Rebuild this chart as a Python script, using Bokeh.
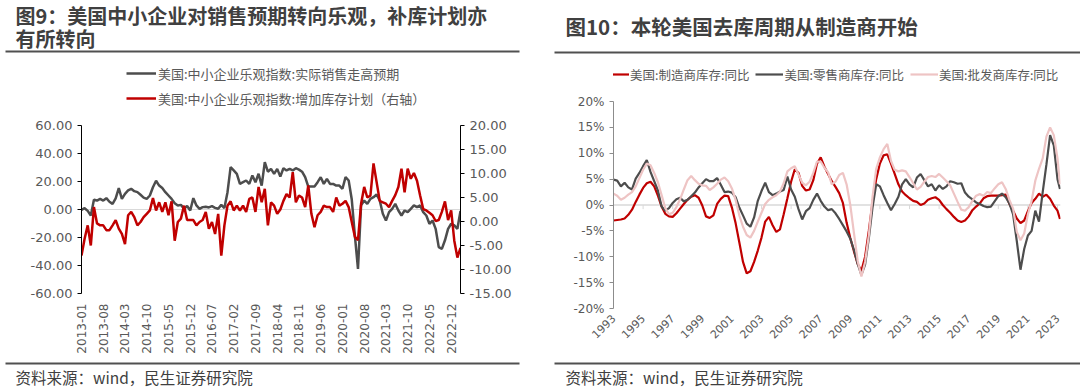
import numpy as np
import pandas as pd
from bokeh.plotting import figure
from bokeh.layouts import row, column
from bokeh.models import (Range1d, LinearAxis, FixedTicker, PrintfTickFormatter,
                          Span, Legend, LegendItem)
from bokeh.core.properties import value
from bokeh.embed import file_html
from bokeh.resources import INLINE

# ---------------- data: left chart (monthly, 2013-01 .. 2023-03) ----------------
months = pd.date_range("2013-01-01", periods=123, freq="MS").strftime("%Y-%m").tolist()

sales_expect = [
    -0.2, 0.9, -1.0, -4.3, 7.0, 6.4, 7.6, 6.4, 8.1, 5.5,
    4.0, 8.0, 15.2, 7.6, 11.2, 13.6, 14.8, 13.1, 12.4, 10.5,
    8.5, 7.6, 10.0, 15.9, 20.5, 17.1, 15.3, 12.4, 10.0, 7.6,
    4.5, 2.9, 3.3, 0.5, 2.5, -0.7, 8.1, 2.9, 0.5, 1.7,
    1.9, 1.5, 2.4, 1.2, 0.5, 3.3, 1.0, 12.4, 30.2, 27.9,
    25.5, 18.3, 19.5, 20.7, 18.3, 24.3, 19.5, 25.5, 17.1, 33.8,
    27.0, 29.0, 25.5, 29.0, 23.5, 29.5, 27.9, 29.0, 27.9, 29.5,
    28.5, 27.0, 23.1, 16.4, 16.4, 16.4, 19.5, 23.1, 18.3, 21.9,
    18.3, 18.3, 17.1, 17.1, 14.8, 23.1, 20.7, 7.1, -18.6, -42.4,
    3.0, 6.4, 4.0, 7.6, 8.8, 10.7, 6.4, -3.1, -7.9, -1.9,
    0.5, 4.0, -0.7, -4.3, -0.7, -1.9, 0.5, 2.9, 1.7, 2.9,
    -1.9, -4.3, -10.2, -7.9, -13.8, -26.9, -28.1, -22.0, -13.8, -10.2,
    -11.4, -13.8, -1.0,
]

inventory_plan = [
    -7.1, -3.6, -0.8, -5.0, 3.0, -0.4, -0.8, -0.8, -1.8, -1.8,
    -0.8, 0.3, -1.5, -2.6, -4.7, 1.3, 2.0, 0.9, -0.8, -0.1,
    0.9, 1.6, 2.3, 4.9, 2.3, 4.0, 2.0, 4.0, 1.3, 4.2,
    -4.0, -0.1, 0.6, 3.3, 0.3, 0.3, 0.3, -0.8, -0.1, 0.3,
    2.0, -1.5, -0.1, -2.6, 1.6, -7.1, -0.8, 3.3, 4.2, 2.3,
    3.3, 2.3, 3.3, 2.0, 4.7, 5.0, 2.0, 7.2, 4.0, 6.8,
    -0.8, 4.0, 3.3, 1.6, 2.5, 4.3, 5.7, 5.0, 10.3, 4.0,
    5.4, 5.0, 3.0, 7.5, 1.6, -1.2, 1.3, 2.0, 3.3, 3.0,
    3.0, 2.0, 5.0, 3.3, 3.7, 4.3, 3.0, -0.1, -3.2, -3.9,
    3.7, 7.2, 5.0, 5.4, 12.1, 8.2, 4.3, 4.0, 3.7, 3.0,
    4.3, 5.5, 7.2, 11.0, 6.1, 11.0, 8.9, 10.1, 8.5, 5.4,
    2.6, 2.3, 1.8, 1.3, 0.1, 0.3, 2.0, 4.2, 0.3, 2.3,
    -4.0, -7.5, -5.5,
]

left_ticks = [-60, -40, -20, 0, 20, 40, 60]
right_ticks = [-15, -10, -5, 0, 5, 10, 15, 20]

# ---------------- data: right chart (quarterly, 1993Q1 .. 2023-03) ----------------
q_dates = pd.date_range("1993-01-01", "2023-01-01", freq="QS").tolist() + [pd.Timestamp("2023-03-01")]

manuf_inv = [
    -3.0, -2.9, -2.8, -2.6, -1.9, -0.9, 0.6, 2.0, 3.3, 4.2, 4.5, 3.6,
    1.8, -0.3, -1.7, -2.2, -2.3, -1.6, -0.7, 0.2, 1.0, 1.6, 1.9, 1.4,
    -0.1, -2.2, -2.5, -2.0, 0.2, 1.2, 1.8, 1.7, -0.5, -3.5, -7.2, -11.0,
    -13.2, -12.8, -11.0, -8.8, -6.3, -3.2, -2.3, -3.9, -5.2, -4.7, -1.8, 1.3,
    4.5, 6.9, 6.2, 3.7, 2.8, 3.0, 4.8, 8.0, 9.2, 7.4, 6.0, 4.6,
    3.5, 2.3, 0.4, -3.4, -6.4, -9.0, -11.4, -12.7, -10.0, -5.0, 0.5, 5.0,
    8.0, 9.6, 9.8, 8.0, 6.0, 4.0, 2.6, 1.9, 1.3, 0.8, 0.6, 0.0,
    0.3, 1.0, 1.3, 1.5, 1.0, 0.0, -0.8, -1.5, -2.3, -3.0, -3.3, -3.0,
    -2.2, -1.0, -0.3, 0.3, 1.3, 1.7, 1.8, 1.8, 1.8, 1.9, 2.0, 0.2,
    -1.1, -2.6, -3.5, -3.0, -1.2, 0.4, 1.2, 2.2, 1.6, 2.0, 1.2, -0.1,
    -1.1, -2.7,
]

retail_inv = [
    4.9, 4.7, 3.6, 4.3, 3.4, 3.0, 5.1, 6.2, 7.5, 8.7, 6.4, 4.6,
    2.8, -0.3, -1.1, -0.6, 0.4, 1.1, 1.4, 0.7, 1.0, 1.7, 2.4, 3.4,
    4.2, 5.0, 4.6, 4.6, 5.2, 3.9, 2.5, 2.6, 2.4, 1.5, -0.5, -2.0,
    -3.6, -4.2, -2.4, 0.8, 2.7, 4.3, 2.5, 1.9, 2.2, 2.6, 2.9, 5.5,
    3.0, 1.6, -0.8, -2.8, -1.2, -0.6, 1.0, 2.2, 0.8, -0.3, -1.0, -0.8,
    -1.6, -2.7, -3.9, -5.1, -6.5, -8.7, -11.4, -13.5, -11.5, -6.5, -0.5, 4.0,
    3.6, 1.9, 0.4, -1.0, 0.2, 1.6, 4.0, 5.0, 4.0, 3.4, 5.3, 6.0,
    4.8, 3.6, 4.0, 2.8, 3.8, 3.1, 3.6, 4.6, 4.4, 4.1, 4.2, 2.4,
    1.6, 1.1, 0.5, 0.2, -0.2, -0.4, -0.3, 0.7, 1.7, 2.2, 1.5, 0.3,
    -1.8, -7.0, -12.5, -8.5, -5.9, -5.0, -1.1, -3.2, 2.5, 7.8, 13.5, 11.5,
    5.0, 3.1,
]

wholesale_inv = [
    2.2, 1.8, 1.0, 1.4, 2.0, 2.5, 3.6, 5.2, 6.8, 8.0, 7.7, 6.2,
    4.4, 1.9, -0.6, -1.8, -1.5, -0.4, 1.1, 3.0, 4.8, 5.6, 4.8, 4.1,
    3.8, 3.7, 2.9, 3.4, 4.1, 4.9, 5.3, 4.6, 3.2, 1.0, -2.0, -4.2,
    -5.8, -6.3, -5.0, -3.2, -1.5, 0.2, 1.0, 1.5, 1.9, 2.6, 4.2, 6.5,
    7.1, 7.5, 5.9, 4.3, 3.8, 4.5, 6.2, 8.4, 8.4, 7.2, 6.3, 4.0,
    4.5, 5.8, 6.2, 4.0, 0.0, -5.5, -10.8, -13.8, -11.0, -5.9, 1.5, 7.0,
    9.2, 10.8, 11.8, 8.5, 6.8, 6.5, 6.7, 6.5, 5.4, 4.2, 3.0, 3.5,
    4.5, 5.4, 5.6, 5.4, 6.0, 5.3, 4.6, 3.8, 2.2, 0.6, -0.9, -1.1,
    -0.4, 0.8, 1.8, 2.1, 1.8, 2.5, 2.3, 3.2, 4.0, 4.4, 3.1, 1.0,
    -0.7, -5.2, -6.8, -5.5, -1.8, 0.8, 4.7, 7.0, 9.0, 13.2, 15.0, 13.5,
    9.0, 4.0,
]

year_ticks = list(range(1993, 2024, 2))
pct_ticks = [-20, -15, -10, -5, 0, 5, 10, 15, 20]

# ---------------- styling ----------------
CJK = "Noto Sans CJK SC"
NUM = "DejaVu Sans"
TXT = "#595959"
DARK = "#404040"
RULE = "#505050"
RED = "#C00000"
GRAY = "#4D4D4D"
PINK = "#EEC4C4"
W = 540
HH, HM, HF = 60, 297, 32


def blank(h):
    p = figure(width=W, height=h, x_range=Range1d(0, W), y_range=Range1d(0, h),
               output_backend="svg", toolbar_location=None,
               x_axis_type=None, y_axis_type=None, min_border=0,
               outline_line_color=None, frame_align=False)
    p.grid.visible = False
    return p


def style_num_axis(ax, ticks, fmt, color, bounds):
    ax.ticker = FixedTicker(ticks=ticks)
    ax.formatter = PrintfTickFormatter(format=fmt)
    ax.bounds = bounds
    ax.axis_line_color = color
    ax.major_tick_line_color = color
    ax.major_tick_out = 4
    ax.major_tick_in = 0
    ax.minor_tick_line_color = None
    ax.major_label_text_font = NUM
    ax.major_label_text_color = TXT


# ---------------- left panel ----------------
h1 = blank(HH)
h1.text(x=[15, 15], y=[45, 22.5],
        text=["图9：美国中小企业对销售预期转向乐观，补库计划亦", "有所转向"],
        text_font=value(CJK), text_font_size="20px", text_font_style="bold",
        text_color=DARK, text_baseline="middle", text_align="left")
h1.line([5, 519], [9, 9], line_color=RULE, line_width=2)

idx = list(range(len(months)))
p1 = figure(width=W, height=HM, x_range=Range1d(0, len(months) - 1),
            y_range=Range1d(-60, -60 + 233 / 1.4),
            output_backend="svg", toolbar_location=None,
            min_border_left=81, min_border_right=80, min_border_top=0,
            min_border_bottom=64, outline_line_color=None, frame_align=False)
p1.extra_y_ranges = {"r": Range1d(-15, -15 + 233 * 35 / 168)}
p1.grid.visible = False
p1.add_layout(Span(location=0, dimension="width", line_color="#D9D9D9",
                   line_width=1, level="underlay"))

style_num_axis(p1.yaxis[0], left_ticks, "%.2f", "#000000", (-60, 60))
p1.yaxis[0].major_label_text_font_size = "13px"
rax = LinearAxis(y_range_name="r")
style_num_axis(rax, right_ticks, "%.2f", "#000000", (-15, 20))
rax.major_label_text_font_size = "13px"
p1.add_layout(rax, "right")

xa = p1.xaxis[0]
xa.ticker = FixedTicker(ticks=idx[::7])
xa.major_label_overrides = {i: months[i] for i in idx[::7]}
xa.major_label_orientation = np.pi / 2
xa.axis_line_color = None
xa.major_tick_line_color = None
xa.minor_tick_line_color = None
xa.major_tick_out = 0
xa.major_tick_in = 0
xa.major_label_standoff = 10
xa.major_label_text_font = NUM
xa.major_label_text_font_size = "12px"
xa.major_label_text_color = TXT

r_g = p1.line(idx, sales_expect, line_color=GRAY, line_width=2.5)
r_r = p1.line(idx, inventory_plan, line_color=RED, line_width=2.5, y_range_name="r")

leg1 = Legend(items=[LegendItem(label="美国:中小企业乐观指数:实际销售走高预期", renderers=[r_g]),
                     LegendItem(label="美国:中小企业乐观指数:增加库存计划（右轴）", renderers=[r_r])],
              location=(45, 185), orientation="vertical",
              padding=0, margin=0, spacing=5, glyph_width=30, glyph_height=20,
              label_height=20, label_standoff=2,
              label_text_font=CJK, label_text_font_size="13px", label_text_color=TXT,
              background_fill_alpha=0, border_line_color=None)
p1.add_layout(leg1, "center")

f1 = blank(HF)
f1.line([5, 519], [26, 26], line_color=RULE, line_width=2)
f1.text(x=[15], y=[13], text=["资料来源：wind，民生证券研究院"], text_font=value(CJK),
        text_font_size="15.5px", text_color=DARK, text_baseline="middle", text_align="left")

# ---------------- right panel ----------------
h2 = blank(HH)
h2.text(x=[25], y=[35], text=["图10：本轮美国去库周期从制造商开始"],
        text_font=value(CJK), text_font_size="20.5px", text_font_style="bold",
        text_color=DARK, text_baseline="middle", text_align="left")
h2.line([14, W], [8, 8], line_color=RULE, line_width=2)

xq = [d.year + (d.month - 1) / 12 for d in q_dates]
p2 = figure(width=W, height=HM, x_range=Range1d(1993, 1993 + 447 / 14.8),
            y_range=Range1d(-20, 20 + 41 / 5.175),
            output_backend="svg", toolbar_location=None,
            min_border_left=73, min_border_right=20, min_border_top=0,
            min_border_bottom=49, outline_line_color=None, frame_align=False)
p2.grid.visible = False
p2.add_layout(Span(location=0, dimension="width", line_color="#D9D9D9",
                   line_width=1.5, level="underlay"))
p2.segment(x0=year_ticks, y0=[0] * len(year_ticks), x1=year_ticks,
           y1=[-0.8] * len(year_ticks), line_color="#D9D9D9", line_width=1)

style_num_axis(p2.yaxis[0], pct_ticks, "%d%%", "#8C8C8C", (-20, 20))
p2.yaxis[0].major_label_text_font_size = "12px"
xb = p2.xaxis[0]
xb.ticker = FixedTicker(ticks=year_ticks)
xb.formatter = PrintfTickFormatter(format="%d")
xb.major_label_orientation = np.pi / 4
xb.axis_line_color = None
xb.major_tick_line_color = None
xb.minor_tick_line_color = None
xb.major_tick_out = 0
xb.major_tick_in = 0
xb.major_label_standoff = 8
xb.major_label_text_font = NUM
xb.major_label_text_font_size = "11px"
xb.major_label_text_color = TXT

r_m = p2.line(xq, manuf_inv, line_color=RED, line_width=2.2)
r_t = p2.line(xq, retail_inv, line_color=GRAY, line_width=2.2)
r_w = p2.line(xq, wholesale_inv, line_color=PINK, line_width=2.2)

leg2 = Legend(items=[LegendItem(label="美国:制造商库存:同比", renderers=[r_m]),
                     LegendItem(label="美国:零售商库存:同比", renderers=[r_t]),
                     LegendItem(label="美国:批发商库存:同比", renderers=[r_w])],
              location=(-12, 224), orientation="horizontal",
              padding=0, margin=0, spacing=6, glyph_width=28, glyph_height=20,
              label_height=20, label_standoff=1,
              label_text_font=CJK, label_text_font_size="12.5px", label_text_color=TXT,
              background_fill_alpha=0, border_line_color=None)
p2.add_layout(leg2, "center")

f2 = blank(HF)
f2.line([14, W], [26, 26], line_color=RULE, line_width=2)
f2.text(x=[25], y=[13], text=["资料来源：wind，民生证券研究院"], text_font=value(CJK),
        text_font_size="15.5px", text_color=DARK, text_baseline="middle", text_align="left")

layout = row(column(h1, p1, f1), column(h2, p2, f2))
open("out.html", "w").write(file_html(layout, INLINE))
